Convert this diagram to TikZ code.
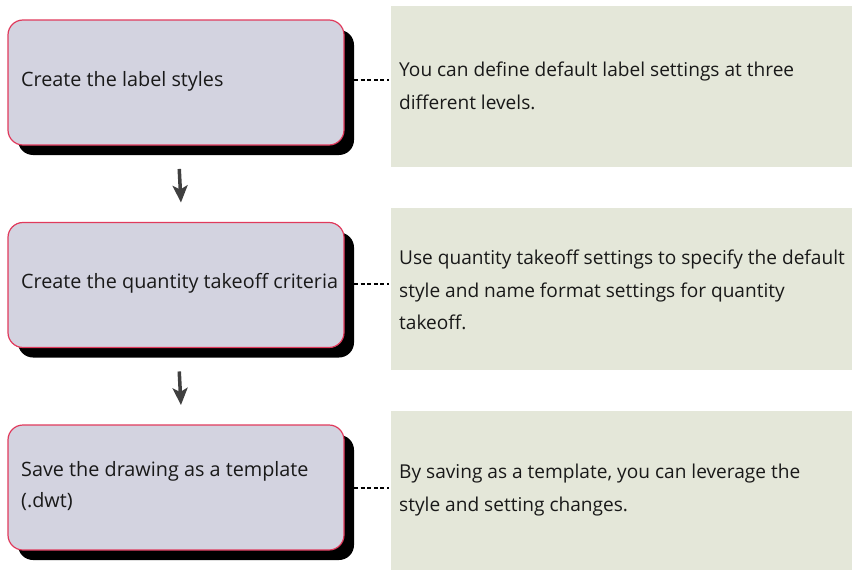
\documentclass[tikz,border=0pt]{standalone}
\usepackage{fontspec}
\setmainfont{Open Sans}
\usetikzlibrary{arrows.meta}
\definecolor{boxfill}{HTML}{D3D3E0}
\definecolor{boxline}{HTML}{E03A5C}
\definecolor{notefill}{HTML}{E4E7D9}
\definecolor{arrowgray}{HTML}{404040}
\tikzset{
  stepbox/.style={draw=boxline, line width=1.2pt, fill=boxfill, rounded corners=15pt},
  shadowbox/.style={fill=black, rounded corners=15pt},
  notebox/.style={fill=notefill},
  steptext/.style={anchor=west, align=left, inner sep=0pt, font=\fontsize{19.8}{31}\selectfont, text=black!90},
  notetext/.style={anchor=west, align=left, inner sep=0pt, font=\fontsize{19.1}{32.5}\selectfont, text=black!90},
  flow/.style={draw=arrowgray, line width=3.5pt, -{Stealth[width=15pt,length=17pt,inset=4pt]}},
  link/.style={draw=black, line width=1.1pt, dash pattern=on 4pt off 2.6pt}
}
\begin{document}
\begin{tikzpicture}[x=1pt,y=-1pt]
\useasboundingbox (0,0) rectangle (852,570);
% rows
\foreach \i/\t in {0/20,1/222.5,2/425}{
  \fill[shadowbox] (18,\t+10) rectangle (354,\t+135);
  \filldraw[stepbox] (8,\t) rectangle (344,\t+125);
}
\fill[notebox] (391,6) rectangle (852,167);
\fill[notebox] (391,208) rectangle (852,370);
\fill[notebox] (391,411) rectangle (852,572);

% step anchors
\coordinate (b1s) at (176,145);
\coordinate (b2n) at (176,222.5);
\coordinate (b2s) at (176,347.5);
\coordinate (b3n) at (176,425);

\node[steptext] (s1) at (21,81) {Create the label styles};
\node[steptext] (s2) at (21,283.5) {Create the quantity takeoff criteria};
\node[steptext] (s3) at (21,486) {Save the drawing as a template\\(.dwt)};

\node[notetext] (n1) at (399,86) {You can define default label settings at three\\different levels.};
\node[notetext] (n2) at (399,290) {Use quantity takeoff settings to specify the default\\style and name format settings for quantity\\takeoff.};
\node[notetext] (n3) at (399,490) {By saving as a template, you can leverage the\\style and setting changes.};

\coordinate (c1a) at (354,80); \coordinate (c1b) at (389,80);
\coordinate (c2a) at (354,284); \coordinate (c2b) at (389,284);
\coordinate (c3a) at (354,488); \coordinate (c3b) at (389,488);
\draw[link] (c1a) -- (c1b);
\draw[link] (c2a) -- (c2b);
\draw[link] (c3a) -- (c3b);

\draw[flow, shorten <=24pt, shorten >=20pt] ([xshift=2pt]b1s) -- ([xshift=6pt]b2n);
\draw[flow, shorten <=24pt, shorten >=20pt] ([xshift=2pt]b2s) -- ([xshift=6pt]b3n);
\end{tikzpicture}
\end{document}
